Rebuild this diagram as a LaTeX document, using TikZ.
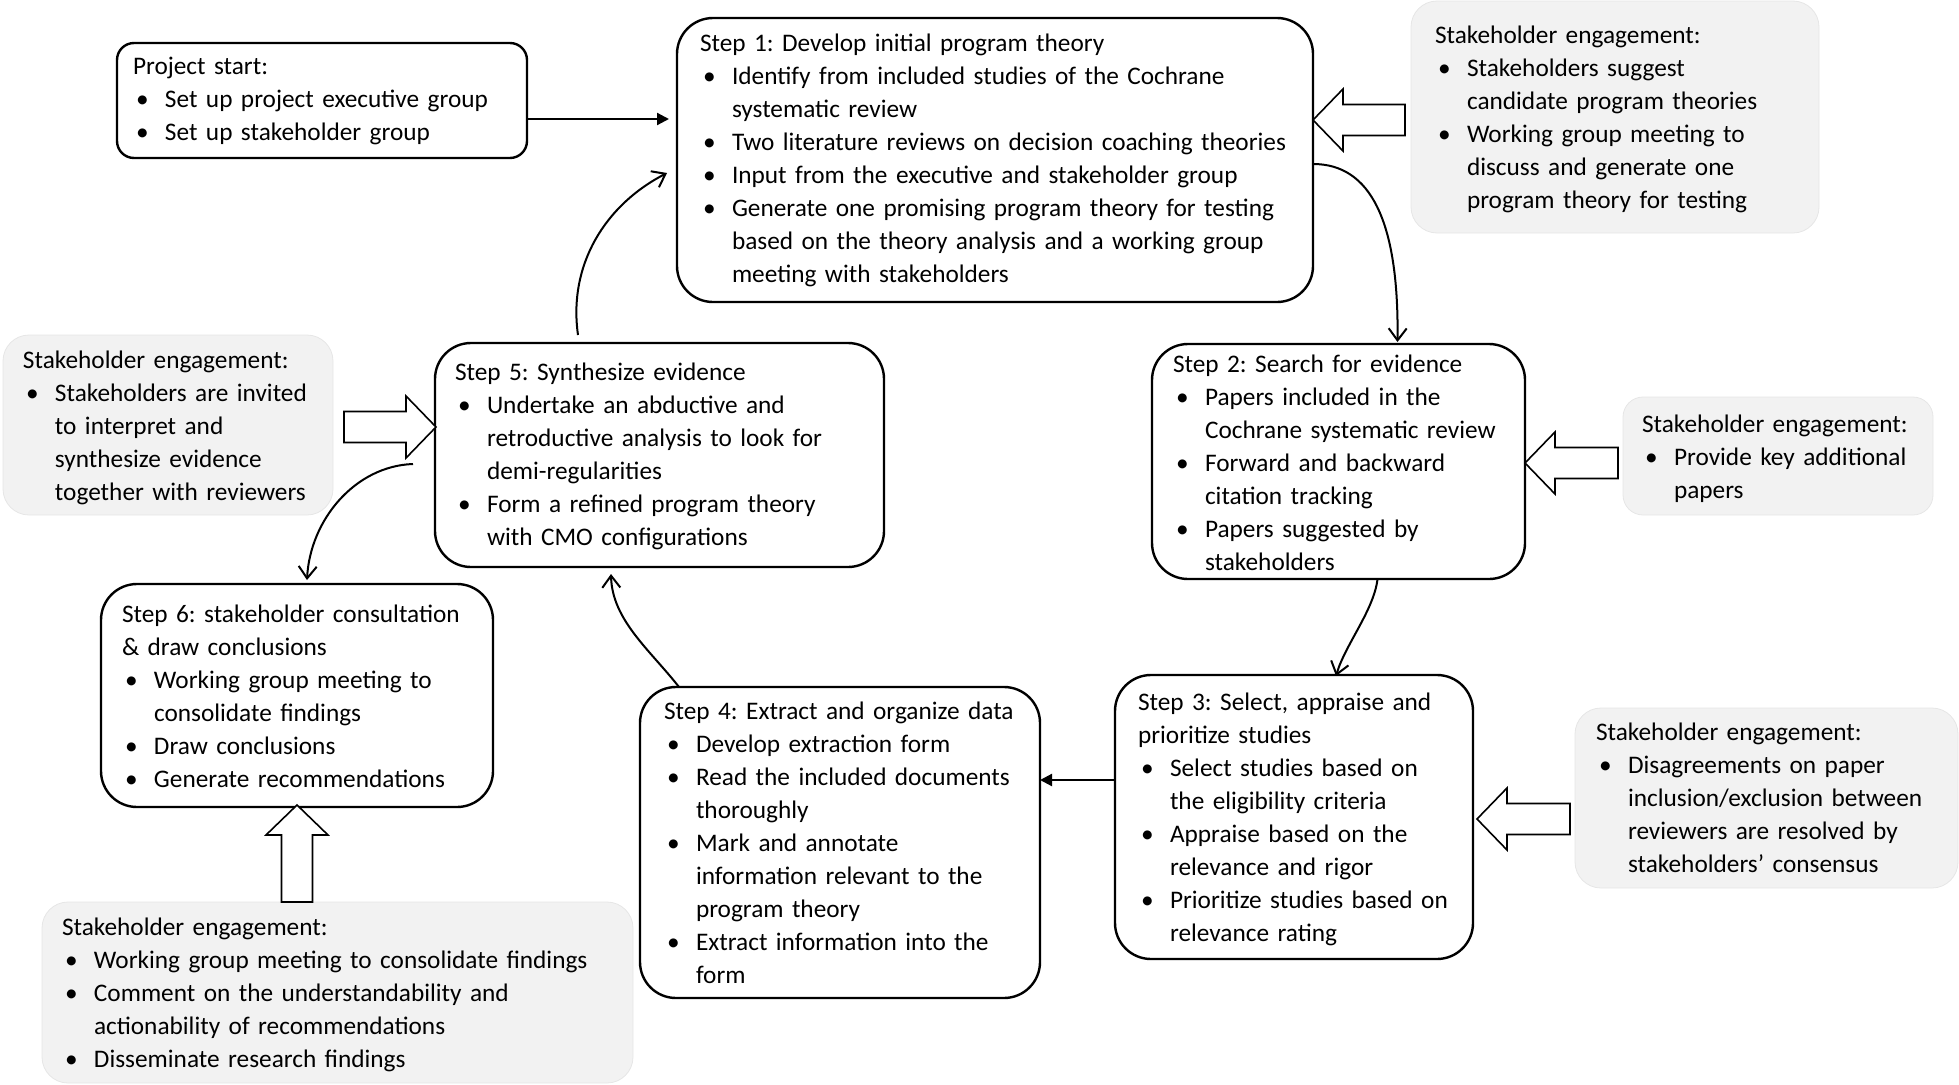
\documentclass[tikz,border=0pt]{standalone}
\usepackage{fontspec}
\setmainfont{Carlito}
\usetikzlibrary{arrows.meta,calc}
\definecolor{gfill}{HTML}{F2F2F2}
\definecolor{gline}{HTML}{E6E6E6}
\frenchspacing
\newcommand\bx{\par\noindent\makebox[32pt][l]{\hspace{3pt}\textbullet}}
\newcommand\cl{\par\noindent\hspace*{32pt}}
\newcommand\nl{\par\noindent}
\newcommand\boxnode[6]{\node[#2, minimum width={#5-#3}, minimum height={#6-#4}] (#1) at ({(#3+#5)/2},{(#4+#6)/2}) {};}
\newcommand\lblock[2]{\path[blk] let \p1=(#1),\p2=(#2) in (\x1,\y1) -- (\x1+30pt,\y1+31pt) -- (\x1+30pt,\y1+15.5pt) -- (\x2,\y1+15.5pt) -- (\x2,\y1-15.5pt) -- (\x1+30pt,\y1-15.5pt) -- (\x1+30pt,\y1-31pt) -- cycle;}
\newcommand\rblock[2]{\path[blk] let \p1=(#1),\p2=(#2) in (\x1,\y1) -- (\x1-30pt,\y1+31pt) -- (\x1-30pt,\y1+15.5pt) -- (\x2,\y1+15.5pt) -- (\x2,\y1-15.5pt) -- (\x1-30pt,\y1-15.5pt) -- (\x1-30pt,\y1-31pt) -- cycle;}
\newcommand\ublock[2]{\path[blk] let \p1=(#1),\p2=(#2) in (\x1,\y1) -- (\x1+31pt,\y1-30pt) -- (\x1+15.5pt,\y1-30pt) -- (\x1+15.5pt,\y2) -- (\x1-15.5pt,\y2) -- (\x1-15.5pt,\y1-30pt) -- (\x1-31pt,\y1-30pt) -- cycle;}
\tikzset{
  stepbox/.style={draw, line width=2.4pt, rounded corners=36pt, inner sep=0pt, outer sep=0pt},
  startbox/.style={draw, line width=2.4pt, rounded corners=17pt, inner sep=0pt, outer sep=0pt},
  graybox/.style={fill=gfill, draw=gline, line width=0.8pt, rounded corners=26pt, inner sep=0pt, outer sep=0pt},
  txt/.style={anchor=north west, inner sep=0pt, outer sep=0pt, text width=700pt, align=left, font=\fontsize{25.3}{33}\selectfont},
  blk/.style={draw, fill=white, line width=1.6pt, line join=miter},
  carr/.style={draw, line width=2pt, -{Straight Barb[length=12pt,width=18pt,line width=2pt]}},
  farr/.style={draw, line width=2.2pt, -{Triangle[length=12pt,width=12pt]}}
}
\begin{document}
\begin{tikzpicture}[x=1pt,y=-1pt]
\useasboundingbox (0,0) rectangle (1959,1084);
% gray stakeholder boxes
\boxnode{g1}{graybox}{1411}{1}{1819}{233}
\boxnode{g2}{graybox, rounded corners=20pt}{1623}{397}{1933}{515}
\boxnode{g3}{graybox}{1575}{708}{1958}{888}
\boxnode{g5}{graybox}{3}{335}{333}{515}
\boxnode{g6}{graybox}{42}{902}{633}{1083}
% step boxes
\boxnode{ps}{startbox}{117}{43}{527}{158}
\boxnode{s1}{stepbox}{677}{18}{1313}{302}
\boxnode{s2}{stepbox}{1152}{344}{1525}{579}
\boxnode{s3}{stepbox}{1115}{675}{1473}{959}
\boxnode{s4}{stepbox}{640}{687}{1040}{998}
\boxnode{s5}{stepbox}{435}{343}{884}{567}
\boxnode{s6}{stepbox}{101}{584}{493}{807}
% texts
\node[txt] (pst) at (133,51) {\strut Project start:\bx Set up project executive group\bx Set up stakeholder group};
\node[txt] (s1t) at (700,28.6) {\strut Step 1: Develop initial program theory\bx Identify from included studies of the Cochrane\cl systematic review\bx Two literature reviews on decision coaching theories\bx Input from the executive and stakeholder group\bx Generate one promising program theory for testing\cl based on the theory analysis and a working group\cl meeting with stakeholders};
\node[txt] (g1t) at (1435,20) {\strut Stakeholder engagement:\bx Stakeholders suggest\cl candidate program theories\bx Working group meeting to\cl discuss and generate one\cl program theory for testing};
\node[txt] (s2t) at (1173,349) {\strut Step 2: Search for evidence\bx Papers included in the\cl Cochrane systematic review\bx Forward and backward\cl citation tracking\bx Papers suggested by\cl stakeholders};
\node[txt] (g2t) at (1642,409) {\strut Stakeholder engagement:\bx Provide key additional\cl papers};
\node[txt] (s3t) at (1138,687) {\strut Step 3: Select, appraise and\nl prioritize studies\bx Select studies based on\cl the eligibility criteria\bx Appraise based on the\cl relevance and rigor\bx Prioritize studies based on\cl relevance rating};
\node[txt] (g3t) at (1596,717) {\strut Stakeholder engagement:\bx Disagreements on paper\cl inclusion/exclusion between\cl reviewers are resolved by\cl stakeholders’ consensus};
\node[txt] (s4t) at (664,696) {\strut Step 4: Extract and organize data\bx Develop extraction form\bx Read the included documents\cl thoroughly\bx Mark and annotate\cl information relevant to the\cl program theory\bx Extract information into the\cl form};
\node[txt] (s5t) at (455,357) {\strut Step 5: Synthesize evidence\bx Undertake an abductive and\cl retroductive analysis to look for\cl demi-regularities\bx Form a refined program theory\cl with CMO configurations};
\node[txt] (g5t) at (23,345) {\strut Stakeholder engagement:\bx Stakeholders are invited\cl to interpret and\cl synthesize evidence\cl together with reviewers};
\node[txt] (s6t) at (122,599) {\strut Step 6: stakeholder consultation\nl \& draw conclusions\bx Working group meeting to\cl consolidate findings\bx Draw conclusions\bx Generate recommendations};
\node[txt] (g6t) at (62,912) {\strut Stakeholder engagement:\bx Working group meeting to consolidate findings\bx Comment on the understandability and\cl actionability of recommendations\bx Disseminate research findings};
% block arrows
\coordinate (b1) at ($(s1.east)+(0,-40)$);
\lblock{b1}{$(b1 -| g1.west)+(-6,0)$}
\coordinate (b2) at ($(s2.east)+(0,1.5)$);
\lblock{b2}{$(b2 -| g2.west)+(-5,0)$}
\coordinate (b3) at ($(s3.east)+(4,2)$);
\lblock{b3}{$(b3 -| g3.west)+(-5,0)$}
\coordinate (b5) at ($(s5.west)+(1,-28)$);
\rblock{b5}{$(b5 -| g5.east)+(11,0)$}
\coordinate (b6) at ($(s6.south)+(0,-2)$);
\ublock{b6}{b6 |- g6.north}
% connectors
\coordinate (a01) at ($(ps.east)+(0,18.5)$);
\draw[farr, shorten >=8pt] (a01) -- (a01 -| s1.west);
\coordinate (a34) at ($(s3.west)+(0,-37)$);
\draw[farr] (a34) -- (a34 -| s4.east);
\draw[carr] ($(s1.east)+(0,4)$) .. controls (1370,164) and (1399,220) .. ($(s2.north)+(59,-2)$);
\draw[carr] ($(s2.south)+(39,0)$) .. controls (1374,610) and (1345,645) .. ($(s3.north)+(42,1)$);
\draw[carr] ($(s4.north)+(-161,0)$) .. controls (650,650) and (612,620) .. ($(s5.south)+(-48.5,7)$);
\draw[carr] ($(s5.north)+(-81.5,-8)$) .. controls (568,265) and (605,205) .. ($(s1.west)+(-10,13)$);
\draw[carr] ($(s5.west)+(-22,9)$) .. controls (355,466) and (310,520) .. ($(s6.north)+(10,-4)$);
\end{tikzpicture}
\end{document}
